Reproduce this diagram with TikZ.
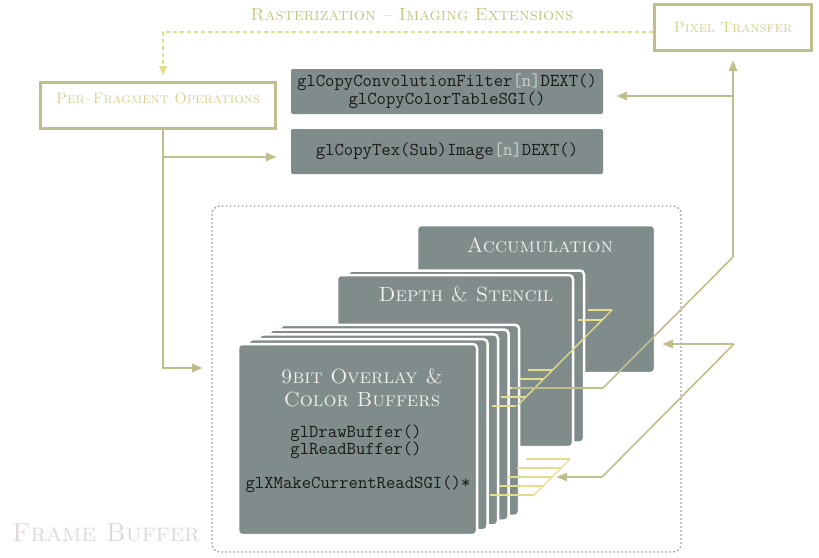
\documentclass[tikz,border=0pt]{standalone}
\usepackage{fontspec}
\usetikzlibrary{arrows.meta}

\definecolor{stageline}{RGB}{192,191,140}
\definecolor{stagetext}{RGB}{214,207,140}
\definecolor{titletext}{RGB}{200,195,128}
\definecolor{feedline}{RGB}{226,222,140}
\definecolor{panelgray}{RGB}{127,140,139}
\definecolor{paneltext}{RGB}{238,238,236}
\definecolor{argtext}{RGB}{205,208,206}
\definecolor{framedots}{RGB}{150,150,150}
\definecolor{framelabel}{RGB}{224,216,216}

\tikzset{
  stagebox/.style={draw=stageline, line width=3pt, inner sep=0pt, text=stagetext,
    font=\fontsize{15}{15}\selectfont\scshape},
  callbox/.style={fill=panelgray, rounded corners=2pt, minimum width=312pt,
    minimum height=45pt, inner sep=0pt, align=center, text=black!90,
    font=\fontsize{18.2}{15}\selectfont\ttfamily},
  buffer/.style={fill=panelgray, draw=white, line width=2.5pt, rounded corners=4pt},
  buftitle/.style={text=paneltext, align=center, font=\fontsize{20.5}{23}\selectfont\scshape},
  bufcall/.style={text=black!90, align=center, font=\fontsize{18.2}{17}\selectfont\ttfamily},
  link/.style={draw=stageline, line width=2.8pt},
  slant/.style={draw=stageline, line width=1.6pt},
  tick/.style={draw=feedline, line width=2pt},
}

\begin{document}
\begin{tikzpicture}[x=1pt, y=-1pt, >={Triangle[length=11pt,width=8pt]}]
  \useasboundingbox (0,0) rectangle (819,557);

  % frame buffer
  \draw[framedots, line width=1.3pt, dash pattern=on 1.6pt off 2.4pt, rounded corners=8pt] (212,206) rectangle (681,552);
  \node[text=framelabel, font=\fontsize{26}{26}\selectfont\scshape] (fblabel) at (106,533) {Frame Buffer};

  \node[text=titletext, font=\fontsize{17.6}{18}\selectfont\scshape] (title) at (412,15) {Rasterization -- Imaging Extensions};

  % stages
  \node[stagebox, minimum width=157pt, minimum height=46pt] (pixel) at (733,27.5) {Pixel Transfer};
  \node[stagebox, minimum width=235pt, minimum height=46pt, text height=12pt, text depth=17pt] (frag) at (158,105.5) {Per--Fragment Operations};

  \node[callbox] (conv) at (447,91.5) {glCopyConvolutionFilter{\color{argtext}[n]}DEXT()\\glCopyColorTableSGI()};
  \node[callbox] (copytex) at (447,151.5) {glCopyTex(Sub)Image{\color{argtext}[n]}DEXT()};

  % buffers
  \path[buffer] (417,225) rectangle (655,373);
  \node[buftitle] (accum) at (540,245) {Accumulation};
  \foreach \k in {1,0}
    \path[buffer] (337+11*\k,275-4.5*\k) rectangle (573+11*\k,447-4.5*\k);
  \node[buftitle] (depth) at (466,294) {Depth \& Stencil};
  \foreach \k in {4,3,2,1,0}
    \path[buffer] (238+10.5*\k,344-4.8*\k) rectangle (477+10.5*\k,535-4.8*\k);
  \node[buftitle] (color) at (362,388) {9bit Overlay \&\\Color Buffers};
  \node[bufcall] (drawread) at (356,441.5) {glDrawBuffer()\\glReadBuffer()};
  \node[bufcall] (xread) at (358,484) {glXMakeCurrentReadSGI()*};

  % combs
  \foreach \y in {310,320,370,379,388,397,406}
    \draw[tick] (612-\y+310,\y) -- ++(-24,0);
  \draw[tick, line width=1.3pt] (612,310) -- (517,406);
  \foreach \y in {459,468,477,486,495}
    \draw[tick] (570-\y+459,\y) -- ++(-44,0);
  \draw[tick, line width=1.3pt] (570,459) -- (534,495);

  % connectors
  \coordinate (fragin) at (163,76);
  \draw[feedline, line width=2.5pt, dash pattern=on 4pt off 3pt, -{Triangle[length=10pt,width=7pt]}] ([yshift=-4.5pt]pixel.west) -| (fragin);

  \coordinate (ftrunk) at (163,157);
  \coordinate (fbuf) at (203,368);
  \draw[link,->] (frag.south -| ftrunk) -- (ftrunk |- fbuf) -- (fbuf);
  \draw[link,->,shorten >=14pt] (ftrunk) -- (ftrunk -| copytex.west);

  \coordinate (pbranch) at (733,96);
  \coordinate (pbend) at (733,257);
  \coordinate (dsin) at (512,388);
  \draw[link,->,shorten >=8pt] (pbend) -- (pbend |- pixel.south);
  \draw[link,->,shorten >=13pt] (pbranch) -- (pbranch -| conv.east);
  \draw[slant] (pbend) -- ++(-130,131) -- (dsin);

  \coordinate (accin) at (662,344);
  \coordinate (rfork) at (734,344);
  \coordinate (colin) at (556,477);
  \draw[link,<-] (accin) -- (rfork);
  \draw[slant] (rfork) -- ++(-132,133) coordinate (cfork);
  \draw[link,->,line width=2.2pt] (cfork) -- (colin);
\end{tikzpicture}
\end{document}
